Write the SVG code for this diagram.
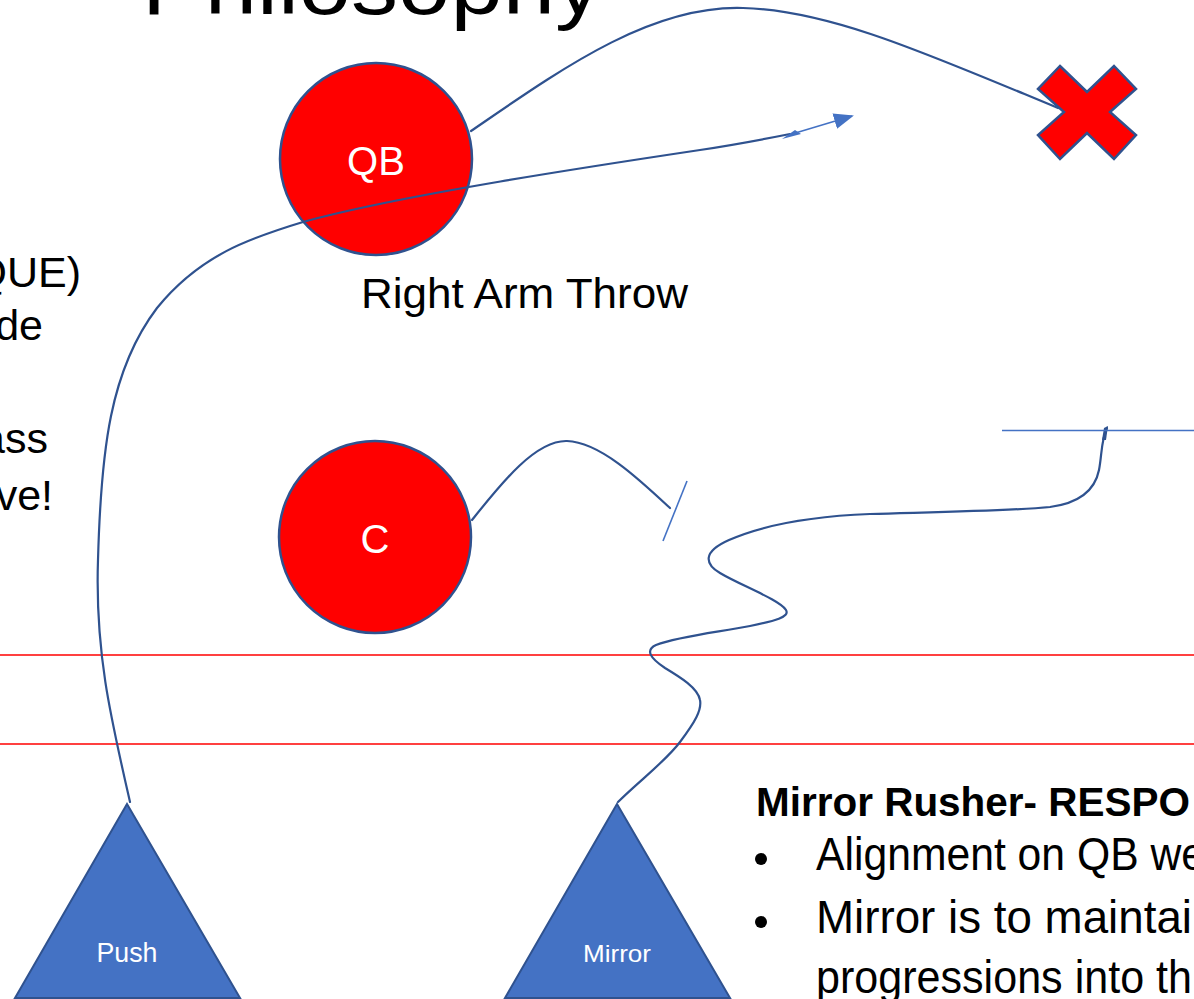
<svg xmlns="http://www.w3.org/2000/svg" width="1194" height="999" viewBox="0 0 1194 999">
<defs>
<style>
.t{font-family:"Liberation Sans",Arial,sans-serif;fill:#000}
.w{font-family:"Liberation Sans",Arial,sans-serif;fill:#fff;text-anchor:middle}
.player{fill:#FF0000;stroke:#2F528F;stroke-width:2.5}
.tri{fill:#4472C4;stroke:#2F528F;stroke-width:2}
.route{fill:none;stroke:#2F528F;stroke-width:2.2;stroke-linecap:round}
.light{fill:none;stroke:#4472C4;stroke-width:1.6}
.los{stroke:#FF0000;stroke-width:1.3}
</style>
<marker id="arr" viewBox="0 0 10 10" refX="9" refY="5" markerWidth="20" markerHeight="16" orient="auto" markerUnits="userSpaceOnUse" preserveAspectRatio="none">
<path d="M0,0 L10,5 L0,10 z" fill="#4472C4"/>
</marker>
</defs>
<rect width="1194" height="999" fill="#fff"/>

<text class="t" x="142" y="14" font-size="84" textLength="460" lengthAdjust="spacingAndGlyphs">Philosophy</text>

<g id="left-text" class="t" font-size="43" text-anchor="end">
<text x="81" y="287">QUE)</text>
<text x="43" y="340">de</text>
<text x="48" y="453">ass</text>
<text x="53" y="510">ve!</text>
</g>

<g id="scrimmage-lines">
<line class="los" x1="0" y1="655" x2="1194" y2="655"/>
<line class="los" x1="0" y1="744" x2="1194" y2="744"/>
</g>

<g id="qb">
<circle class="player" cx="376" cy="159" r="96"/>
<text class="w" x="376" y="175" font-size="40">QB</text>
</g>
<text id="right-arm" class="t" x="361" y="308" font-size="43" textLength="327" lengthAdjust="spacingAndGlyphs">Right Arm Throw</text>

<g id="center">
<circle class="player" cx="375" cy="537" r="96"/>
<text class="w" x="375" y="553" font-size="40">C</text>
</g>

<g id="x-mark">
<polygon class="player" points="1060,66 1087,92 1114,66 1136,89 1110,112 1136,135 1114,159 1087,133 1060,159 1038,135 1064,112 1038,89"/>
</g>

<g id="push">
<polygon class="tri" points="127,804 240,998 15,998"/>
<text class="w" x="127" y="962" font-size="27" textLength="61" lengthAdjust="spacingAndGlyphs">Push</text>
</g>

<g id="mirror">
<polygon class="tri" points="617,804 730,998 505,998"/>
<text class="w" x="617" y="962" font-size="24" textLength="68" lengthAdjust="spacingAndGlyphs">Mirror</text>
</g>

<g id="connectors">
<path class="route" d="M471,131 C560,70 650,5 743,8 C830,10 930,55 1058,108"/>
<path class="route" d="M130,802 C110,715 95,650 98,560 C101,450 110,370 157,308 C200,255 250,238 303,222 C400,195 600,165 700,150 C740,144 765,139 790,134"/>
<path d="M782,139 L795,130 L801,134 z" fill="#4472C4"/>
<line class="light" x1="792" y1="134" x2="852" y2="116" stroke-width="2.6" marker-end="url(#arr)"/>
<path class="route" d="M472,520 C500,485 535,440 567,441 C600,442 640,480 670,508"/>
<line class="light" x1="687" y1="481" x2="663" y2="541"/>
<path class="route" d="M618,802 C640,780 665,762 680,742 C695,722 702,710 700,700 C698,688 680,677 665,668 C650,658 645,650 656,645 C680,636 720,632 750,626 C775,621 790,617 786,610 C780,600 740,585 720,573 C705,564 702,552 729,540 C770,522 820,516 870,514 C940,512 1010,511 1050,507 C1080,503 1095,490 1099,470 C1102,455 1101,440 1107,428"/>
<path d="M1102,440 L1104,428 L1108,426 L1106,440 z" fill="#2F528F"/>
<line class="light" x1="1002" y1="430.5" x2="1194" y2="430.5"/>
</g>

<g id="responsibilities" class="t">
<text x="756" y="816" font-size="40" font-weight="bold" textLength="434" lengthAdjust="spacingAndGlyphs">Mirror Rusher- RESPO</text>
<circle cx="761" cy="859" r="6" fill="#000"/>
<circle cx="761" cy="922" r="6" fill="#000"/>
<text x="816" y="870" font-size="46" textLength="389" lengthAdjust="spacingAndGlyphs">Alignment on QB we</text>
<text x="816" y="933" font-size="46" textLength="376" lengthAdjust="spacingAndGlyphs">Mirror is to maintai</text>
<text x="816" y="993" font-size="46" textLength="376" lengthAdjust="spacingAndGlyphs">progressions into th</text>
</g>
</svg>
